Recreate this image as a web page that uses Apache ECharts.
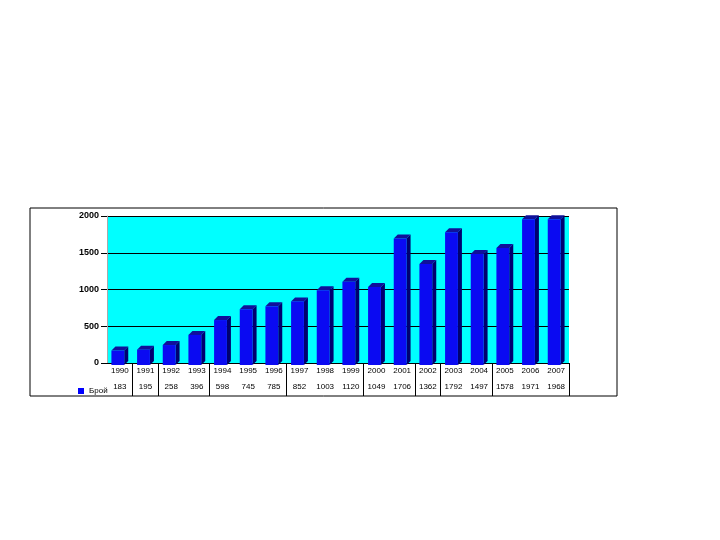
<!DOCTYPE html>
<html><head><meta charset="utf-8">
<script src="https://cdn.jsdelivr.net/npm/echarts@6/dist/echarts.min.js"></script>
<style>html,body{margin:0;padding:0;background:#fff}#c{width:720px;height:540px}</style>
</head><body><div id="c"></div>
<script>
var years = ['1990','1991','1992','1993','1994','1995','1996','1997','1998','1999','2000','2001','2002','2003','2004','2005','2006','2007'];
var values = [183,195,258,396,598,745,785,852,1003,1120,1049,1706,1362,1792,1497,1578,1971,1968];
var yTicks = [0,500,1000,1500,2000];
var seriesName = 'Брой';
var tableSeparators = [1,2,4,7,10,12,13,15,18];

var chart = echarts.init(document.getElementById('c'), null, {renderer:'canvas'});
var font = 'Liberation Sans, Arial, sans-serif';
chart.setOption({
  animation:false,
  backgroundColor:'#fff',
  grid:{left:107,right:151,top:216,bottom:177,show:true,backgroundColor:'#00ffff',borderWidth:0},
  legend:{data:[{name:seriesName,icon:'rect'}],left:73,top:382,itemWidth:6,itemHeight:6,itemGap:3,
    textStyle:{fontSize:8,fontFamily:font,color:'#000'}},
  xAxis:[{type:'category',data:years,
      axisLine:{show:true,lineStyle:{color:'#000',width:1}},
      axisTick:{show:true,length:33,lineStyle:{color:'#000'},interval:function(i){return tableSeparators.indexOf(i)>=0;}},
      axisLabel:{fontSize:8,fontFamily:font,color:'#000',margin:4,interval:0}},
    {type:'category',data:values.map(String),position:'bottom',offset:16,
      axisLine:{show:false},axisTick:{show:false},
      axisLabel:{fontSize:8,fontFamily:font,color:'#000',margin:4,interval:0}}],
  yAxis:{type:'value',min:yTicks[0],max:yTicks[yTicks.length-1],interval:500,
    axisLine:{show:true,lineStyle:{color:'#aaa'}},
    axisTick:{show:true,length:6,lineStyle:{color:'#000'}},
    axisLabel:{fontSize:9,fontWeight:'bold',fontFamily:font,color:'#000',margin:8,formatter:function(v){return String(v);}},
    splitLine:{show:true,lineStyle:{color:'#000',width:1}}},
  series:[{type:'custom',name:seriesName,xAxisIndex:0,yAxisIndex:0,
    itemStyle:{color:'#0000ff'},
    data:values.map(function(v,i){return [i,v];}),
    encode:{x:0,y:1},
    renderItem:function(params,api){
      var top=api.coord([api.value(0),api.value(1)]);
      var base=api.coord([api.value(0),0]);
      var bw=api.size([1,0])[0];
      var w=bw*0.5, d=4;
      var x0=top[0]-w/2-d/2, x1=x0+w;
      var y0=top[1]+1, y1=base[1]+2;
      return {type:'group',children:[
        {type:'polygon',shape:{points:[[x1,y0],[x1+d,y0-d],[x1+d,y1-d],[x1,y1]]},style:{fill:'#000070'}},
        {type:'polygon',shape:{points:[[x0,y0],[x0+d,y0-d],[x1+d,y0-d],[x1,y0]]},style:{fill:'#10109a'}},
        {type:'rect',shape:{x:x0,y:y0,width:w,height:y1-y0},style:{fill:'#0a0af2'}}
      ]};
    }}],
  graphic:[{type:'rect',shape:{x:30,y:208,width:587,height:188},style:{fill:'none',stroke:'#000',lineWidth:1},silent:true}]
});
</script></body></html>
